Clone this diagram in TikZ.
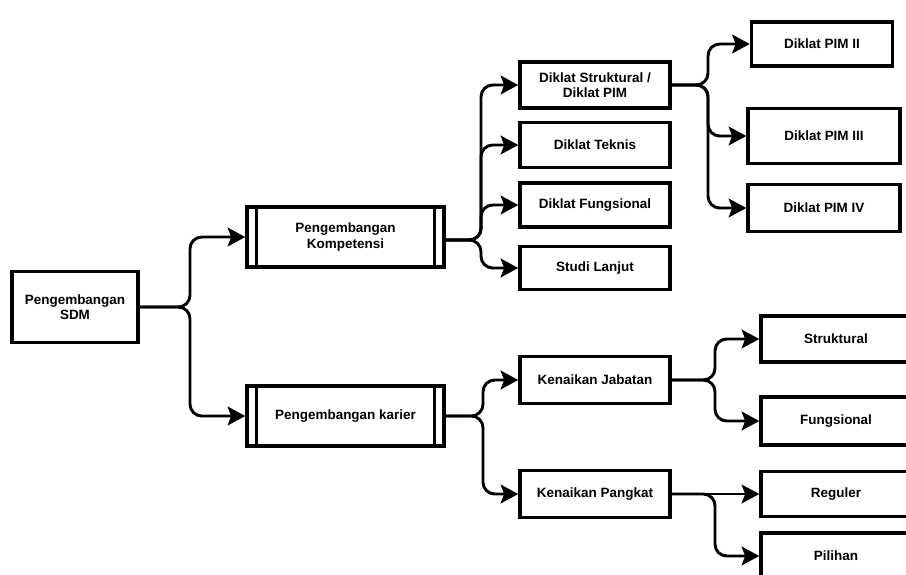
\documentclass[tikz,border=0pt]{standalone}
\usepackage{fontspec}
\setmainfont{Liberation Sans}
\usetikzlibrary{arrows.meta}

\begin{document}
\begin{tikzpicture}[x=0.03cm, y=-0.03cm,
    kotak/.style={draw, line width=3pt, fill=white, align=center,
        font=\bfseries\fontsize{11.5}{13}\selectfont, inner sep=2pt},
    ujung/.style={-{Stealth[length=15pt, width=16pt, inset=3pt]}},
    garis/.style={line width=2.5pt, rounded corners=10pt, ujung}]
    % Area gambar tetap (ukuran referensi)
    \useasboundingbox (0,0) rectangle (906,574);
    \clip (0,0) rectangle (906,574);

    % Akar
    \node[kotak, minimum width=126*0.03cm, minimum height=71*0.03cm] (sdm) at (75,307) {Pengembangan\\SDM};

    % Tingkat dua (kotak bergaris ganda)
    \node[kotak, minimum width=197*0.03cm, minimum height=60*0.03cm] (komp) at (345.5,237) {Pengembangan\\Kompetensi};
    \node[kotak, minimum width=197*0.03cm, minimum height=60*0.03cm] (karier) at (345.5,416) {Pengembangan karier};
    \foreach \n in {komp, karier} {
        \draw[line width=2.4pt] ([xshift=0.33cm]\n.north west) -- ([xshift=0.33cm]\n.south west);
        \draw[line width=2.4pt] ([xshift=-0.33cm]\n.north east) -- ([xshift=-0.33cm]\n.south east);
    }

    % Tingkat tiga
    \node[kotak, minimum width=150*0.03cm, minimum height=46*0.03cm] (dstr) at (595,85) {Diklat Struktural /\\Diklat PIM};
    \node[kotak, minimum width=150*0.03cm, minimum height=45*0.03cm] (dtek) at (595,145) {Diklat Teknis};
    \node[kotak, minimum width=150*0.03cm, minimum height=44*0.03cm] (dfun) at (595,205) {Diklat Fungsional};
    \node[kotak, minimum width=150*0.03cm, minimum height=43*0.03cm] (studi) at (595,268) {Studi Lanjut};
    \node[kotak, minimum width=150*0.03cm, minimum height=47*0.03cm] (jab) at (595,380) {Kenaikan Jabatan};
    \node[kotak, minimum width=150*0.03cm, minimum height=47*0.03cm] (pangkat) at (595,494) {Kenaikan Pangkat};

    % Tingkat empat
    \node[kotak, minimum width=141*0.03cm, minimum height=44*0.03cm] (pim2) at (822,44) {Diklat PIM II};
    \node[kotak, minimum width=152*0.03cm, minimum height=55*0.03cm] (pim3) at (824,136) {Diklat PIM III};
    \node[kotak, minimum width=152*0.03cm, minimum height=47*0.03cm] (pim4) at (824,208) {Diklat PIM IV};
    \node[kotak, minimum width=150*0.03cm, minimum height=46*0.03cm] (struk) at (836,339) {Struktural};
    \node[kotak, minimum width=150*0.03cm, minimum height=48*0.03cm] (fung) at (836,421) {Fungsional};
    \node[kotak, minimum width=150*0.03cm, minimum height=45*0.03cm] (reg) at (836,494) {Reguler};
    \node[kotak, minimum width=150*0.03cm, minimum height=46*0.03cm] (pil) at (836,556) {Pilihan};

    % Titik cabang
    \coordinate (c1) at (190,0);
    \coordinate (c2) at (481,0);
    \coordinate (c3) at (708,0);
    \coordinate (c4) at (483,0);
    \coordinate (c5) at (715,0);
    \coordinate (c6) at (715,0);

    % Panah
    \foreach \t in {komp, karier}
        \draw[garis] (sdm.east) -- (sdm.east -| c1) |- (\t.west);
    \foreach \t in {dstr, dtek, dfun, studi}
        \draw[garis] ([yshift=-0.09cm]komp.east) -- ([yshift=-0.09cm]komp.east -| c2) |- (\t.west);
    \foreach \t in {pim2, pim3, pim4}
        \draw[garis] (dstr.east) -- (dstr.east -| c3) |- (\t.west);
    \foreach \t in {jab, pangkat}
        \draw[garis] (karier.east) -- (karier.east -| c4) |- (\t.west);
    \foreach \t in {struk, fung}
        \draw[garis] (jab.east) -- (jab.east -| c5) |- (\t.west);
    \draw[garis] (pangkat.east) -- (pangkat.east -| c6) |- (pil.west);
    \draw[garis] (pangkat.east) -- (pangkat.east -| reg.west);
\end{tikzpicture}
\end{document}
